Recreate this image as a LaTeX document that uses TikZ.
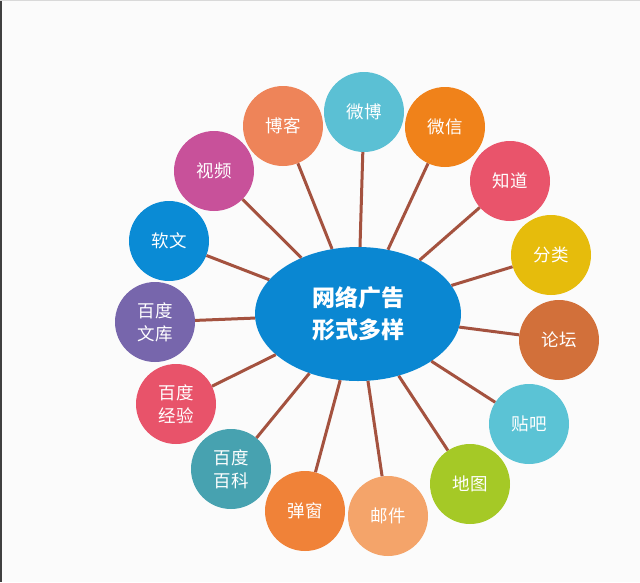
\documentclass[tikz,border=0pt]{standalone}
\usepackage{fontspec}
\setmainfont{Noto Sans CJK SC}
\usetikzlibrary{shapes.geometric}
\definecolor{hubblue}{HTML}{0A87D2}
\definecolor{linkbrown}{HTML}{A4523F}
\definecolor{pagegray}{HTML}{FBFBFB}
\definecolor{cweibo}{HTML}{5BC0D4}
\definecolor{cweixin}{HTML}{F0821A}
\definecolor{czhidao}{HTML}{E9546B}
\definecolor{cfenlei}{HTML}{E6BC0C}
\definecolor{cluntan}{HTML}{D2703A}
\definecolor{ctieba}{HTML}{5BC3D5}
\definecolor{cditu}{HTML}{A5C926}
\definecolor{cyoujian}{HTML}{F4A46A}
\definecolor{ctanchuang}{HTML}{F08238}
\definecolor{cbaike}{HTML}{47A2B0}
\definecolor{cjingyan}{HTML}{E8536A}
\definecolor{cwenku}{HTML}{7766AC}
\definecolor{cruanwen}{HTML}{0A8BD5}
\definecolor{cshipin}{HTML}{C8519A}
\definecolor{cboke}{HTML}{EE8459}
\newcommand{\bubble}[2]{\node[item, fill=c#1] (#1) at #2}

\begin{document}
\begin{tikzpicture}[x=1pt, y=-1pt,
  item/.style={circle, minimum size=80pt, inner sep=0pt, text=white,
    align=center, font=\fontsize{17.5}{23}\selectfont},
  hub/.style={ellipse, fill=hubblue, minimum width=206pt, minimum height=134pt,
    inner sep=0pt, text=white, align=center,
    font=\fontsize{23}{32}\selectfont\bfseries},
  link/.style={draw=linkbrown, line width=3pt}]
  % page
  \fill[pagegray] (0,0) rectangle (640,582);
  \useasboundingbox (0,0) rectangle (640,582);
  \draw[black!75, line width=2pt] (1,0) -- (1,582);
  \draw[black!15, line width=1.5pt] (0,0.5) -- (640,0.5);
  % centre
  \node[hub] (ad) at (358,314) {网络广告\\形式多样};
  % ring, clockwise from the top
  \bubble{weibo}{(364,112)} {微博};
  \bubble{weixin}{(445,127)} {微信};
  \bubble{zhidao}{(510,181)} {知道};
  \bubble{fenlei}{(551,255)} {分类};
  \bubble{luntan}{(559,340)} {论坛};
  \bubble{tieba}{(529,424)} {贴吧};
  \bubble{ditu}{(470,484)} {地图};
  \bubble{youjian}{(388,516)} {邮件};
  \bubble{tanchuang}{(305,511)} {弹窗};
  \bubble{baike}{(231,469)} {百度\\百科};
  \bubble{jingyan}{(176,404)} {百度\\经验};
  \bubble{wenku}{(155,322)} {百度\\文库};
  \bubble{ruanwen}{(169,241)} {软文};
  \bubble{shipin}{(214,171)} {视频};
  \bubble{boke}{(283,126)} {博客};
  % spokes
  \path[link]
    (ad) edge (weibo)
    (ad) edge (weixin)
    (ad) edge (zhidao)
    (ad) edge (fenlei)
    (ad) edge (luntan)
    (ad) edge (tieba)
    (ad) edge (ditu)
    (ad) edge (youjian)
    (ad) edge (tanchuang)
    (ad) edge (baike)
    (ad) edge (jingyan)
    (ad) edge (wenku)
    (ad) edge (ruanwen)
    (ad) edge (shipin)
    (ad) edge (boke);
\end{tikzpicture}
\end{document}
